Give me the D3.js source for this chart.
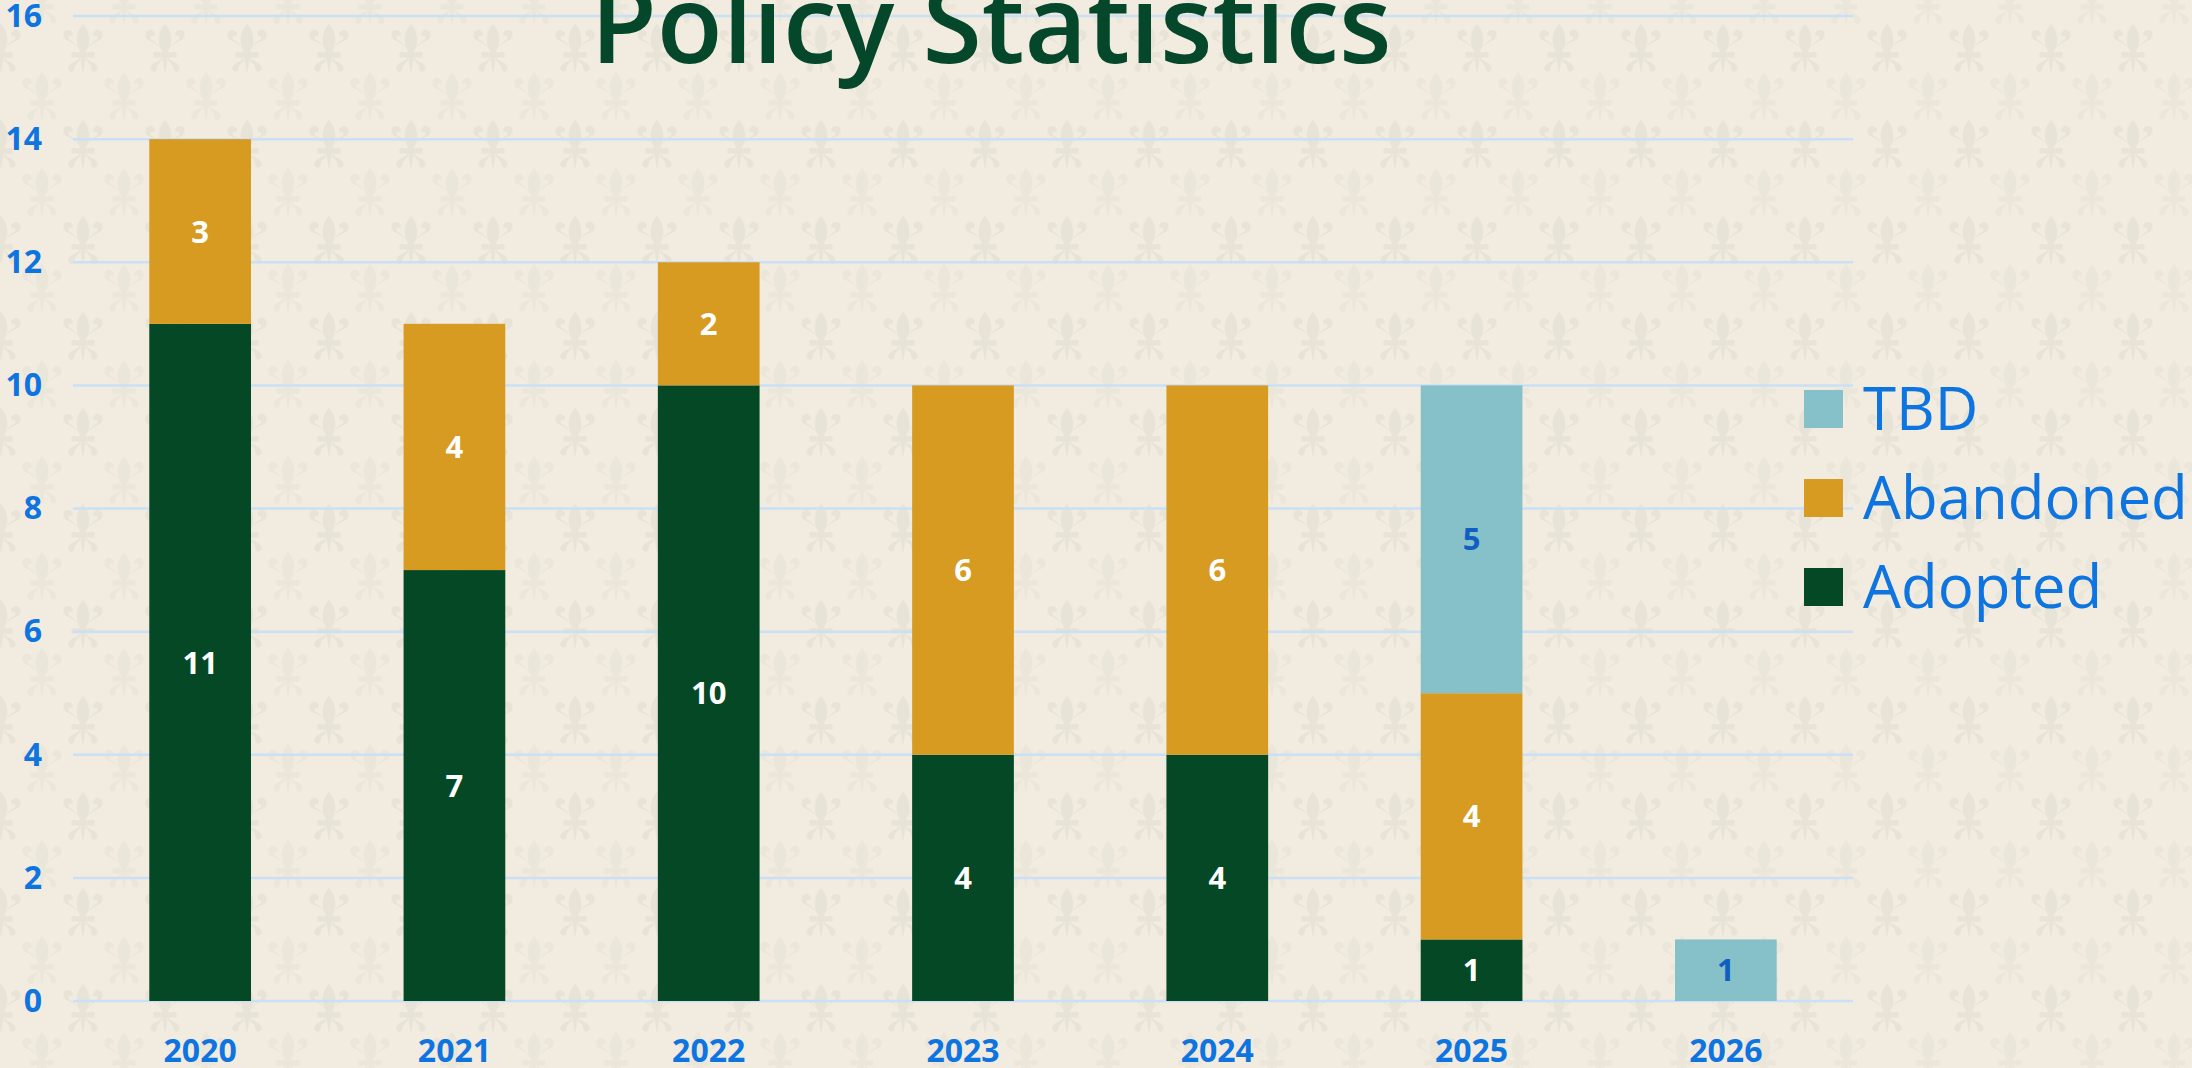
<!DOCTYPE html>
<html lang="en">
<head>
<meta charset="UTF-8">
<script src="https://d3js.org/d3.v7.min.js"></script>
<title>Policy Statistics</title>
<style>
  body { margin: 0; background: #F2EBDF; overflow: hidden; }
  svg { display: block; font-family: "Open Sans", "Noto Sans", sans-serif; }
</style>
</head>
<body>
<script>
// data
var years = ["2020", "2021", "2022", "2023", "2024", "2025", "2026"];
var adopted = [11, 7, 10, 4, 4, 1, 0];
var abandoned = [3, 4, 2, 6, 6, 4, 0];
var tbd = [0, 0, 0, 0, 0, 5, 1];
var seriesNames = ["Adopted", "Abandoned", "TBD"];
var yTicks = [0, 2, 4, 6, 8, 10, 12, 14, 16];

var W = 2192, H = 1068;
var plot = { left: 73, right: 1853, top: 16, bottom: 1001 };
var colors = { Adopted: "#054826", Abandoned: "#D89B22", TBD: "#86C0C8" };
var blue = "#0E74E0";

var rows = years.map(function (y, i) {
  return { year: y, Adopted: adopted[i], Abandoned: abandoned[i], TBD: tbd[i] };
});

var svg = d3.select("body").append("svg")
  .attr("width", W)
  .attr("height", H);

// fleur-de-lis background
var fleur = "M0,-24 C7,-16 8,-6 2.5,3 L-2.5,3 C-8,-6 -7,-16 0,-24 Z" +
  "M-3,3 C-5,-3 -10,-6 -15,-8 C-20,-10 -20,-17 -15,-18 C-11,-19 -9,-15 -10,-12 C-13,-13 -15,-11 -13,-9 C-9,-7 -5,-3 -3,3 Z" +
  "M3,3 C5,-3 10,-6 15,-8 C20,-10 20,-17 15,-18 C11,-19 9,-15 10,-12 C13,-13 15,-11 13,-9 C9,-7 5,-3 3,3 Z" +
  "M-11,3 H11 V8 H-11 Z" +
  "M-2.5,8 L0,24 L2.5,8 Z" +
  "M-3,8 C-6,13 -13,12 -14,18 C-14,22 -9,23 -8,19 C-8,15 -5,13 -3,11 Z" +
  "M3,8 C6,13 13,12 14,18 C14,22 9,23 8,19 C8,15 5,13 3,11 Z";

var defs = svg.append("defs");
var pat = defs.append("pattern")
  .attr("id", "fleurs")
  .attr("patternUnits", "userSpaceOnUse")
  .attr("x", 1).attr("y", 1)
  .attr("width", 82).attr("height", 96);
[[0, 48, 0.7], [82, 48, 0.7], [41, 0, 0.45], [41, 96, 0.45]].forEach(function (p) {
  pat.append("path")
    .attr("d", fleur)
    .attr("transform", "translate(" + p[0] + "," + p[1] + ") scale(1.05)")
    .attr("fill", "#E3E0D5")
    .attr("opacity", p[2]);
});
svg.append("rect").attr("width", W).attr("height", H).attr("fill", "#F2EBDF");
svg.append("rect").attr("width", W).attr("height", H).attr("fill", "url(#fleurs)");

// scales
var x = d3.scaleBand()
  .domain(years)
  .range([plot.left, plot.right])
  .paddingInner(0.6)
  .paddingOuter(0.3);

var y = d3.scaleLinear()
  .domain([0, 16])
  .range([plot.bottom, plot.top]);

// gridlines
svg.append("g")
  .selectAll("line")
  .data(yTicks)
  .join("line")
  .attr("x1", plot.left).attr("x2", plot.right)
  .attr("y1", function (d) { return y(d); })
  .attr("y2", function (d) { return y(d); })
  .attr("stroke", "#C9E0F7")
  .attr("stroke-width", 2.5);

// y axis
var yAxis = svg.append("g")
  .attr("transform", "translate(" + 42 + ",0)")
  .call(d3.axisLeft(y).tickValues(yTicks).tickSize(0).tickPadding(0));
yAxis.select(".domain").remove();
yAxis.selectAll("text")
  .attr("fill", blue)
  .attr("font-size", 32)
  .attr("font-weight", 700)
  .attr("font-family", "'Open Sans', sans-serif");

// x axis
var xAxis = svg.append("g")
  .attr("transform", "translate(0," + plot.bottom + ")")
  .call(d3.axisBottom(x).tickSize(0).tickPadding(38));
xAxis.select(".domain").remove();
xAxis.selectAll("text")
  .attr("fill", blue)
  .attr("font-size", 32)
  .attr("font-weight", 700)
  .attr("font-family", "'Open Sans', sans-serif");

// stacked bars
var stacked = d3.stack().keys(seriesNames)(rows);

var layers = svg.append("g")
  .selectAll("g")
  .data(stacked)
  .join("g")
  .attr("fill", function (d) { return colors[d.key]; });

layers.selectAll("rect")
  .data(function (d) { return d; })
  .join("rect")
  .attr("x", function (d) { return x(d.data.year); })
  .attr("width", x.bandwidth())
  .attr("y", function (d) { return y(d[1]); })
  .attr("height", function (d) { return y(d[0]) - y(d[1]); });

// value labels
layers.each(function (layer) {
  d3.select(this).selectAll("text")
    .data(layer.filter(function (d) { return d[1] - d[0] > 0; }))
    .join("text")
    .attr("x", function (d) { return x(d.data.year) + x.bandwidth() / 2; })
    .attr("y", function (d) { return (y(d[0]) + y(d[1])) / 2; })
    .attr("dy", "0.36em")
    .attr("text-anchor", "middle")
    .attr("font-size", 31)
    .attr("font-weight", 700)
    .attr("fill", layer.key === "TBD" ? "#0F5FC2" : "#FFFFFF")
    .text(function (d) { return d[1] - d[0]; });
});

// title
svg.append("text")
  .attr("x", 991)
  .attr("y", 63)
  .attr("text-anchor", "middle")
  .attr("font-size", 108)
  .attr("font-weight", 600)
  .attr("fill", "#05472A")
  .text("Policy Statistics");

// legend
var legend = svg.append("g")
  .selectAll("g")
  .data(seriesNames.slice().reverse())
  .join("g")
  .attr("transform", function (d, i) { return "translate(1804," + (390 + i * 89) + ")"; });

legend.append("rect")
  .attr("width", 39)
  .attr("height", 38)
  .attr("fill", function (d) { return colors[d]; });

legend.append("text")
  .attr("x", 59)
  .attr("y", 40)
  .attr("font-size", 60)
  .attr("fill", blue)
  .text(function (d) { return d; });
</script>
</body>
</html>
